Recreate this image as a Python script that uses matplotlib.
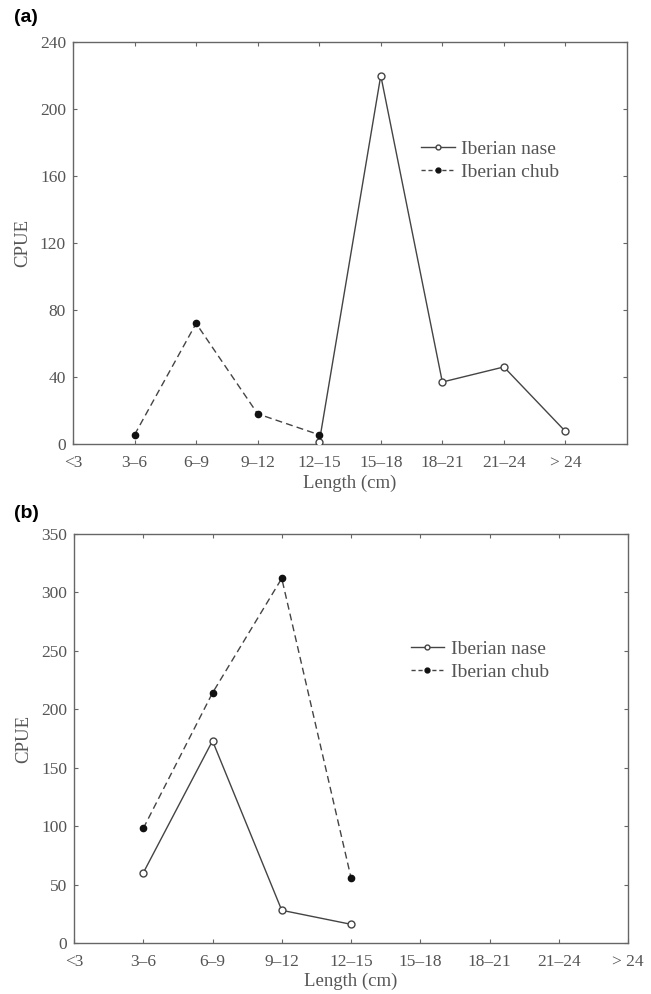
import numpy as np
import matplotlib.pyplot as plt
from matplotlib.lines import Line2D

# Length classes (x tick labels)
length_classes = ["<3", "3\u20136", "6\u20139", "9\u201312", "12\u201315",
                  "15\u201318", "18\u201321", "21\u201324", "> 24"]

# Panel (a) values
a_nase_idx = [4, 5, 6, 7, 8]
a_nase = [1, 220, 37, 46, 7.5]
a_chub_idx = [1, 2, 3, 4]
a_chub = [5.5, 72, 18, 5.5]

# Panel (b) values
b_nase_idx = [1, 2, 3, 4]
b_nase = [60, 173, 28, 16]
b_chub_idx = [1, 2, 3, 4]
b_chub = [98, 214, 312, 56]

text_col = "#555555"
line_col = "#444444"
serif = ["Liberation Serif", "DejaVu Serif"]

plt.rcParams["font.family"] = serif
plt.rcParams["axes.edgecolor"] = "#666666"
plt.rcParams["axes.linewidth"] = 1.0

fig = plt.figure(figsize=(6.51, 9.94), dpi=100)
W, H = 651, 994

def make_axes(left, top, right, bottom):
    return fig.add_axes([left / W, 1 - bottom / H, (right - left) / W, (bottom - top) / H])

ax_a = make_axes(73, 42, 627, 444)
ax_b = make_axes(74, 534, 628, 943)


def style(ax, xmax, ymax, yticks, xlabelpad):
    ax.set_xlim(0, xmax)
    ax.set_ylim(0, ymax)
    ax.set_xticks(range(len(length_classes)))
    ax.set_xticklabels(length_classes)
    ax.set_yticks(yticks)
    ax.tick_params(direction="in", length=3, width=0.8, colors="#666666",
                   labelcolor=text_col, labelsize=12.5,
                   top=True, right=True, pad=5)
    ax.tick_params(axis="x", pad=8)
    ax.set_xlabel("Length (cm)", color=text_col, fontsize=13.5, labelpad=xlabelpad)
    ax.set_ylabel("CPUE", color=text_col, fontsize=13.5, labelpad=6)


def draw(ax, nx, ny, cx, cy, legend_pos):
    ax.plot(nx, ny, "-", color=line_col, lw=1.0, marker="o", ms=5,
            mfc="white", mec=line_col, mew=1.0, zorder=3)
    ax.plot(cx, cy, "--", color=line_col, lw=1.0, marker="o", ms=4.5,
            mfc="#111111", mec="#111111", dashes=(5, 3), zorder=3)
    handles = [
        Line2D([], [], ls="-", color=line_col, lw=1.0, marker="o", ms=3.5,
               mfc="white", mec=line_col),
        Line2D([], [], ls="--", color=line_col, lw=1.0, marker="o", ms=3.5,
               mfc="#111111", mec="#111111", dashes=(3, 2)),
    ]
    ax.legend(handles, ["Iberian nase", "Iberian chub"], frameon=False,
              loc="upper left", bbox_to_anchor=legend_pos, handlelength=1.7,
              handletextpad=0.35, labelspacing=0.3, fontsize=14,
              labelcolor=text_col, borderaxespad=0)


style(ax_a, 9, 240, [0, 40, 80, 120, 160, 200, 240], 2.5)
draw(ax_a, a_nase_idx, a_nase, a_chub_idx, a_chub, (0.615, 0.775))

style(ax_b, 8, 350, [0, 50, 100, 150, 200, 250, 300, 350], 1.5)
draw(ax_b, b_nase_idx, b_nase, b_chub_idx, b_chub, (0.594, 0.76))

fig.text(14 / W, 1 - 18 / H, "(a)", fontsize=14, fontweight="bold",
         family=["Liberation Sans", "DejaVu Sans"], va="center", ha="left")
fig.text(14 / W, 1 - 513 / H, "(b)", fontsize=14, fontweight="bold",
         family=["Liberation Sans", "DejaVu Sans"], va="center", ha="left")

fig.savefig("out.png", dpi=100, facecolor="white")
